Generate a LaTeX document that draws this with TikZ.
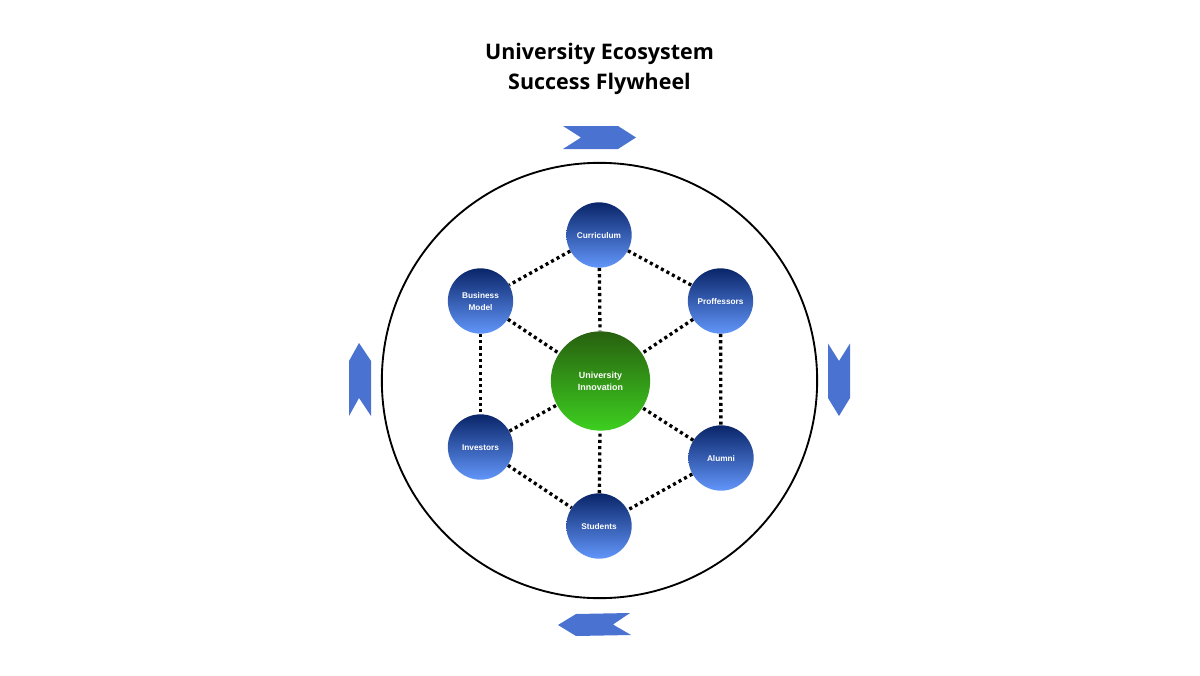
\documentclass[tikz,border=0pt]{standalone}
\usepackage{fontspec}
\setmainfont{Open Sans}
\newfontfamily\labelfont{Liberation Sans}
\definecolor{arrowblue}{HTML}{4A72D1}
\definecolor{bluetop}{HTML}{0A2569}
\definecolor{bluebot}{HTML}{6296FA}
\definecolor{greentop}{HTML}{28600F}
\definecolor{greenbot}{HTML}{3DCF20}
\tikzset{
  px/.style={x=0.75pt,y=-0.75pt},
  bluenode/.style={circle,minimum size=49pt,inner sep=0pt,top color=bluetop,bottom color=bluebot,draw=none,text=white,align=center,text height=5.4pt,text depth=0pt,font=\labelfont\fontsize{6.2pt}{9pt}\selectfont\bfseries},
  twoline/.style={text height=14.4pt},
  greennode/.style={circle,minimum size=74.5pt,inner sep=0pt,top color=greentop,bottom color=greenbot,draw=none,text=white,align=center,font=\labelfont\fontsize{6.7pt}{9pt}\selectfont\bfseries},
  link/.style={line width=2.5pt,black,dash pattern=on 2.3pt off 2.4pt},
  flow/.style={fill=arrowblue,draw=none},
}
\begin{document}
\begin{tikzpicture}[px]
\useasboundingbox (0,0) rectangle (1200,675);
\fill[white] (0,0) rectangle (1200,675);
\node[font=\fontsize{16.1pt}{22.5pt}\selectfont\bfseries,align=center] (title) at (599.5,69) {University Ecosystem\\Success Flywheel};
\node[circle,draw=black,line width=1.4pt,minimum size=326.5pt,inner sep=0pt] (ring) at (599.5,380.5) {};
\node[greennode] (uni) at (600.5,381) {University\\Innovation};
\node[bluenode] (cur) at (599,235) {Curriculum};
\node[bluenode,twoline] (bus) at (480.5,301) {Business\\Model};
\node[bluenode] (pro) at (720.5,301) {Proffessors};
\node[bluenode] (inv) at (480.5,447) {Investors};
\node[bluenode] (alu) at (721,458) {Alumni};
\node[bluenode] (stu) at (599,526) {Students};
\foreach \a/\b in {cur/bus,cur/pro,cur/uni,bus/uni,pro/uni,bus/inv,pro/alu,inv/uni,alu/uni,stu/uni,inv/stu,alu/stu}
  \draw[link] (\a) -- (\b);
\fill[flow] (563,126) -- (618,126) -- (636,137.5) -- (618,149) -- (563,149) -- (581,137.5) -- cycle;
\fill[flow] (359,343) -- (371,361) -- (371,416) -- (359,398) -- (349,416) -- (349,361) -- cycle;
\fill[flow] (828,343.5) -- (839,361) -- (850,343.5) -- (850,398) -- (839,416) -- (828,398) -- cycle;
\fill[flow] (558,625) -- (576,614) -- (630,613) -- (613,624.5) -- (631,635) -- (576,636) -- cycle;
\end{tikzpicture}
\end{document}
